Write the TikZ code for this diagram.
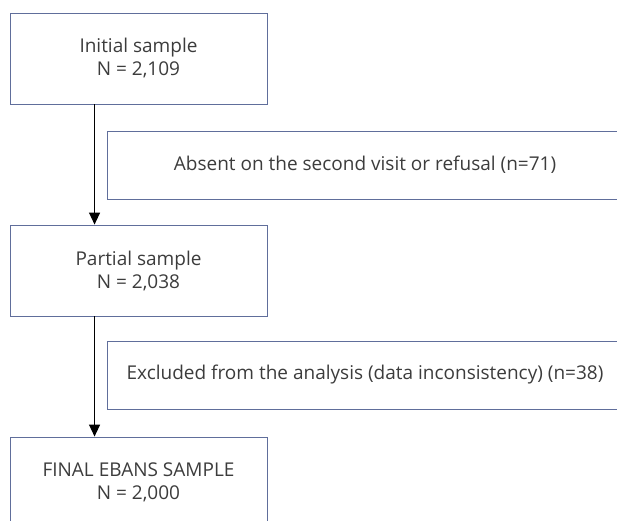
\documentclass[tikz,border=0pt]{standalone}
\usepackage{fontspec}
\setmainfont{Open Sans}
\usepackage{tikz}
\usetikzlibrary{positioning}
\usetikzlibrary{arrows.meta}
\definecolor{boxline}{RGB}{96,110,155}
\definecolor{boxtext}{RGB}{60,60,60}
\tikzstyle{samplebox} = [rectangle, minimum width=257pt, minimum height=91pt, text centered, align=center, draw=boxline, line width=0.9pt, text=boxtext, font=\fontsize{19pt}{23pt}\selectfont]
\tikzstyle{exclbox} = [rectangle, minimum width=516pt, minimum height=68pt, text centered, draw=boxline, line width=0.9pt, text=boxtext, font=\fontsize{19pt}{23pt}\selectfont]
\tikzstyle{arrow} = [line width=1.3pt, -{Triangle[width=11pt,length=12pt]}]
\begin{document}
\begin{tikzpicture}[x=1pt, y=-1pt]

	\useasboundingbox (0,0) rectangle (617,520);
	\clip (0,0) rectangle (617,520);

	\node (initial) [samplebox] at (138.5,58.5) {Initial sample\\N = 2,109};

	\node (absent) [exclbox] at (365,165) {Absent on the second visit or refusal (n=71)};

	\node (partial) [samplebox] at (138.5,270.5) {Partial sample\\N = 2,038};

	\node (excluded) [exclbox] at (365,375) {Excluded from the analysis (data inconsistency) (n=38)};

	\node (final) [samplebox] at (138.5,482.5) {FINAL EBANS SAMPLE\\N = 2,000};

	\draw [arrow] ([xshift=85pt]initial.south west) -- ([xshift=85pt]partial.north west);
	\draw [arrow] ([xshift=85pt]partial.south west) -- ([xshift=85pt]final.north west);

\end{tikzpicture}
\end{document}
